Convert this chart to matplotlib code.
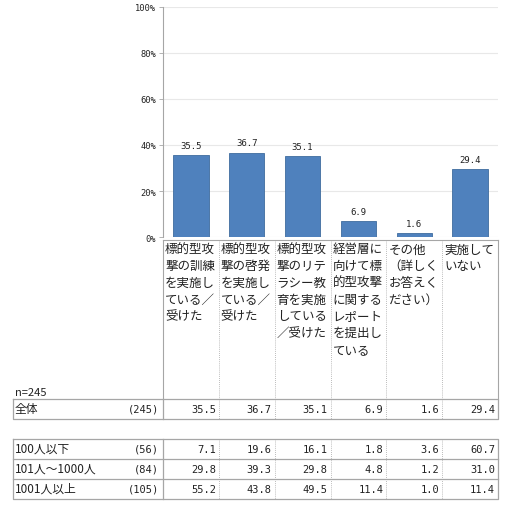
import numpy as np
import matplotlib
matplotlib.use("Agg")
from matplotlib import pyplot as plt

plt.rcParams['font.family'] = ['Noto Sans CJK JP', 'DejaVu Sans']

# data
categories = [
    "標的型攻\n撃の訓練\nを実施し\nている／\n受けた",
    "標的型攻\n撃の啓発\nを実施し\nている／\n受けた",
    "標的型攻\n撃のリテ\nラシー教\n育を実施\nしている\n／受けた",
    "経営層に\n向けて標\n的型攻撃\nに関する\nレポート\nを提出し\nている",
    "その他\n（詳しく\nお答えく\nださい）",
    "実施して\nいない",
]
total_values = [35.5, 36.7, 35.1, 6.9, 1.6, 29.4]
total_label = "全体"
total_n = 245
group_labels = ["100人以下", "101人～1000人", "1001人以上"]
group_n = [56, 84, 105]
group_values = [
    [7.1, 19.6, 16.1, 1.8, 3.6, 60.7],
    [29.8, 39.3, 29.8, 4.8, 1.2, 31.0],
    [55.2, 43.8, 49.5, 11.4, 1.0, 11.4],
]
yticks = [0, 20, 40, 60, 80, 100]

W, H = 508, 510
mono = 'DejaVu Sans Mono'
line_col = '#A6A6A6'
bar_col = '#4F81BD'
txt_col = '#222222'

fig = plt.figure(figsize=(W / 100, H / 100), dpi=100)

# layout in pixels
ax_l, ax_r, ax_t, ax_b = 163, 498, 8, 238
ax = fig.add_axes([ax_l / W, (H - ax_b) / H, (ax_r - ax_l) / W, (ax_b - ax_t) / H])
x = np.arange(len(categories))
bars = ax.bar(x, total_values, width=0.63, color=bar_col, edgecolor='#3F6C9E', linewidth=0.6, zorder=3)
ax.set_xlim(-0.5, len(categories) - 0.5)
ax.set_ylim(0, 100)
ax.set_yticks(yticks)
ax.set_yticklabels([f"{t}%" for t in yticks], fontfamily=mono, fontsize=6.3, color=txt_col)
ax.tick_params(axis='y', length=3, width=0.6, color=line_col, pad=2)
ax.set_xticks([])
ax.grid(axis='y', color='#E8E8E8', linewidth=0.8, zorder=0)
for s in ['top', 'right', 'bottom']:
    ax.spines[s].set_visible(False)
ax.spines['left'].set_color(line_col)
ax.spines['left'].set_linewidth(0.8)
for b, v in zip(bars, total_values):
    ax.annotate(f"{v:.1f}", (b.get_x() + b.get_width() / 2, v), xytext=(0, 4),
                textcoords='offset points', ha='center', va='bottom',
                fontfamily=mono, fontsize=6.5, color=txt_col)

# overlay for category box and table
ov = fig.add_axes([0, 0, 1, 1])
ov.set_xlim(0, W)
ov.set_ylim(H, 0)
ov.axis('off')

ncol = len(categories)
edges = ax_l + np.arange(ncol + 1) * (ax_r - ax_l) / ncol
box_t, box_b = 241, 400
tab_l = 13

# category box
ov.plot([ax_l, ax_r], [box_t, box_t], color=line_col, lw=0.8)
ov.plot([ax_l, ax_l], [box_t, box_b], color=line_col, lw=0.8)
ov.plot([ax_r, ax_r], [box_t, box_b], color=line_col, lw=0.8)
for e in edges[1:-1]:
    ov.plot([e, e], [box_t, box_b], color=line_col, lw=0.6, ls=(0, (1, 1.5)))
for i, lab in enumerate(categories):
    for k, line in enumerate(lab.split("\n")):
        ov.text(edges[i] + 2, 250 + k * 16.7, line, fontsize=9.0, va='center', ha='left', color=txt_col)

ov.text(15, 393, f"n={total_n}", fontsize=8, va='center', ha='left', color=txt_col)


def draw_table(top, rows):
    rh = 20
    bottom = top + rh * len(rows)
    ov.plot([tab_l, ax_r, ax_r, tab_l, tab_l], [top, top, bottom, bottom, top], color=line_col, lw=0.9)
    for r in range(1, len(rows)):
        ov.plot([tab_l, ax_r], [top + r * rh] * 2, color=line_col, lw=0.9)
    ov.plot([ax_l, ax_l], [top, bottom], color=line_col, lw=0.9)
    for e in edges[1:-1]:
        ov.plot([e, e], [top, bottom], color=line_col, lw=0.6, ls=(0, (1, 1.5)))
    for r, (lab, n, vals) in enumerate(rows):
        yc = top + r * rh + rh / 2
        ov.text(15, yc - 0.7, lab, fontsize=8.5, va='center', ha='left', color=txt_col)
        ov.text(ax_l - 4, yc, f"({n})", fontsize=7.5, fontfamily=mono, va='center', ha='right', color=txt_col)
        for i, v in enumerate(vals):
            ov.text(edges[i + 1] - 3, yc, f"{v:.1f}", fontsize=7.5, fontfamily=mono,
                    va='center', ha='right', color=txt_col)


draw_table(400, [(total_label, total_n, total_values)])
draw_table(440, list(zip(group_labels, group_n, group_values)))

fig.savefig("out.png", dpi=100)
